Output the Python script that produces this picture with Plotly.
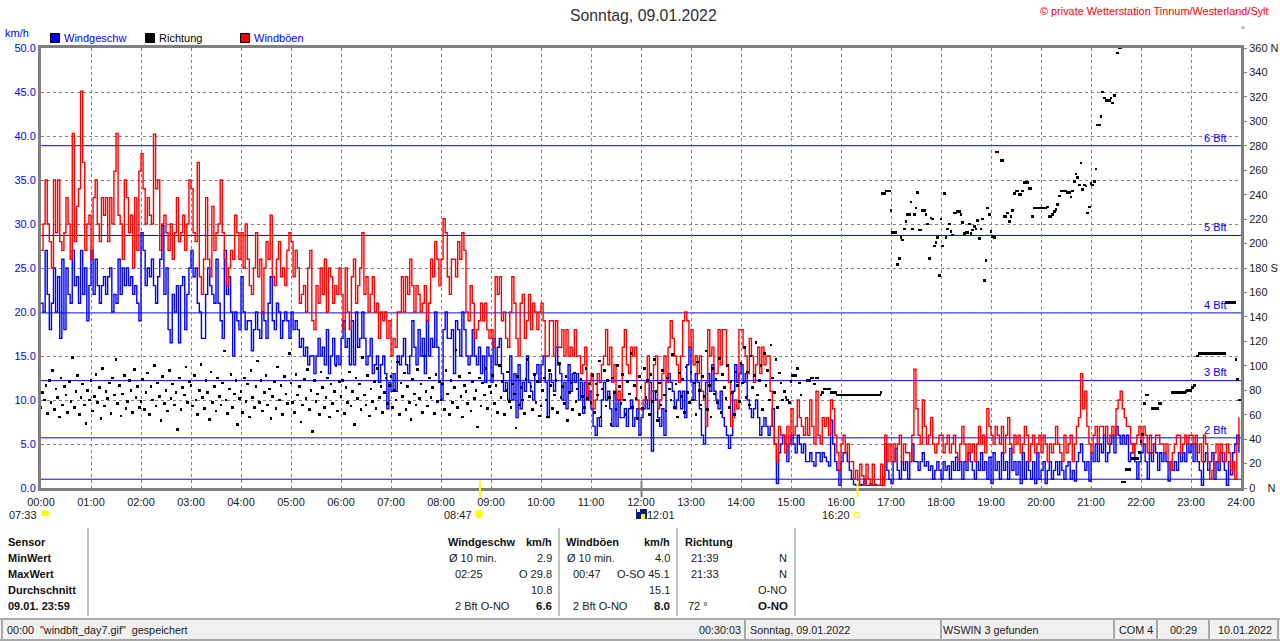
import plotly.graph_objects as go

n = None
hour_labels = [f"{h:02d}:00" for h in range(25)]
kmh_ticks = [0, 5, 10, 15, 20, 25, 30, 35, 40, 45, 50]
deg_ticks = list(range(0, 361, 20))
deg_labels = {0: "0    N", 180: "180 S", 360: "360 N"}
bft_levels = [1.0, 5.7, 12.2, 19.9, 28.7, 38.9]
bft_names = ["", "2 Bft", "3 Bft", "4 Bft", "5 Bft", "6 Bft"]
sun_marks = [8.78, 16.33]

G00 = [27,30,35,30,28,25,35,29,35,28,27,29,33,30,26,40.3,28,32,34,45.1,37,27,30,31]
G01 = [26,33,35,30,28,33,31,33,28,33,30,36,40.3,31,30,26,35,33,29,31,25,33,27,36]
G02 = [38,34,30,33,31,30,40.2,34,35,27,30,31,29,27,30,26,29,33,28,29,31,27,30,35]
G03 = [34,29,28,37,24,22,26,33,26,24,32,27,29,30,35,29,26,23,25,27,26,31,29,26]
G04 = [29,25,30,26,23,22,25,29,24,26,20,25,28,26,31,24,23,26,28,24,25,23,27,29]
G05 = [28,24,27,25,21,22,23,20,25,27,19,18,23,21,25,22,26,20,25,24,21,23,22,25]
G06 = [22,18,25,20,18,24,26,21,23,25,29,22,24,20,22,24,20,21,17,20,19,20,17,19]
G07 = [15,17,16,20,20,24,20,24,22,26,23,20,23,22,20,21,23,19,21,26,24,28,26,23]
G08 = [26,30.6,29,24,22,26,26,24,28,26,29,27,20,19,23,21,17,18,19,21,19,21,18,17]
G09 = [18,16,24,22,24,19,20,17,16,20,24,21,17,15,21,22,17,19,22,18,21,20,18,20]
G10 = [21,19,15,15,19,19,15,19,16,16,18,15,18,15,16,15,18,15,15,13,14,16,10,12]
G11 = [13,9,10,13,12,14,15,18,14,16,12,14,10,11,10,16,18,14,13,16,15,16,10,9]
G12 = [9,10,12,15,10,11,14,15,9,10,13,15,12,16,19,17,15,14,12,15,19,20,19,16]
G13 = [18,14,15,13,15,11,10,7,18,15,16,13,13,18,14,18,18,14,12,7,8,10,9,18]
G14 = [18,16,15,13,17,15,12,14,16,13,16,14,15,15,11,7,5,3,7,6,6,4,7,5]
G15 = [9,6,7,10,8,7,6,8,6,10,7,5,11,6,5,8,7,8,6,10,9,6,4,2]
G16 = [5,6,4,5,3,3,1,2,0.3,2.7,1.4,0.3,2.7,1,0.3,2.7,0.3,0.3,0.3,2.7,0.3,6,3,5]
G17 = [3,5,3,5,6,3,5,4,4,3,6,13.5,9,6,5,10,7,5,6,8,5,4,5,6]
G18 = [6,4,5,6,4,5,6,4,3,5,7,5,3,5,4,5,3,5,7,5,6,4,9,7]
G19 = [6,5,7,6,5,7,4,6,8,5,4,6,5,6,4,5,7,6,3,5,6,4,5,6]
G20 = [4,6,5,3,5,4,5,7,5,4,3,6,4,5,6,3,5,7,8,13,9,11,7,5]
G21 = [4,6,7,5,7,7,6,7,5,6,7,6,9,10,11,9,8,7,7,5,4,5,6,7]
G22 = [5,7,6,4,6,4,5,6,6,5,5,4,5,3,2,4,5,6,6,4,5,6,5,6]
G23 = [6,5,6,4,5,3,6,5,3,1,2,4,5,3,5,4,3,5,4,2,3,1,5,8]

B00 = [21,20,27,22,18,21,25,20,24,17,26,18,25,22,21,27,23,24,21,27,22,25,19,23]
B01 = [27,22,26,23,21,23,24,22,24,25,20,22,21,26,22,25,23,25,23,24,22,23,21,19]
B02 = [29,27,23,25,24,26,23,21,24,26,29.8,22,25,18,16.5,22,20,23,16.5,23,24,18,22,25]
B03 = [27,24,25,21,20,17,17,22,25,23,22,21,26,21,19,17,27,22,24,20,15,20,19,18]
B04 = [24,20,18,19,19,15.6,18,20,18,17,20,19,17,21,24,19,18,21,20,17,19,20,19,17]
B05 = [20,18,19,18,16,17,15,16,14,15,15,13,15,17,15,16,14,18,13,15,17,14,15,14]
B06 = [17,19,16,17,14,19,14,20,16,17,20,17,14,15,17,13,14,15,12,14,15,13,9,12]
B07 = [11,13,11,15,14,15,17,14,13,15,19,16,14,18,15,17,13,19,15,17,16,20,16,12]
B08 = [10,18,20,17,17,18,13,19,18,15,20,18,15,14,15,18,15,14,16,13,15,12,16,15]
B09 = [12,17,14,16,17,13,11,12,10,15,10,13,8,14,9,12,11,15,12,11,10,13,14,12]
B10 = [14,15,12,8,13,12,11,16,14,13,10,12,9,14,11,13,12,13,10,12,8.5,12,10,11]
B11 = [9,7,6,8,7,10,12,10,11,9,7,11,7,10,8,8,9,7,9,10,7,8,9,6]
B12 = [8,9,10,9,12,4.2,11,10,8,7,9,6,12,13,12,11,9,10,11,9,11,8,14,16]
B13 = [12,10,13,12,9,6,5,12,13,11,14,11,10,9,11,8,7,6,4.5,6,11,14,12,13]
B14 = [14,12,13,10,9,8,9,10,8,6,7,8,7,6,7,9,5,0.5,4,5,6,5,3,5]
B15 = [6,5,4,6,5,4,5,3,3,4,3,2.5,4,4,3,4,3.5,3,2.5,7.7,5,3,2,0.3]
B16 = [3,4,4,3,2,1,0.4,0.3,0.4,0.3,0.4,1,0.3,0.3,0.5,0.3,0.4,0.3,0.3,0.3,1.2,5,2,1]
B17 = [0.5,3,4.5,2,1,3,2,3,1,3,5,3,3,2,3,4,2.5,3,2,2.5,1,2,3,2]
B18 = [1,3,2,2.5,1,3,2,3.5,2,3,1,3,2,4,3,2,1,3,2,4,2,3,1,3.5]
B19 = [0.5,4,2,3,1,4,2,3,1,4.5,2,3,1.5,3,0.5,4,1,3,2,1,3,0.5,4,1]
B20 = [2,3,0.5,2,3,1,2,3,1.5,3,2,1,2.5,3,1,2,0.8,3,4,5,3,2,3,0.8]
B21 = [4,3,5,3,5,4,6,3,4,5,6,4,7,6,5,6,5,6,3,4,5,3,1,3]
B22 = [4,5,3,1,4,3,5,4,2,4,3,4,3,0.8,3,2,3,2,4,3,4,3,5,4]
B23 = [5,3,5,3,2,0.3,3,4,2,3,4,1,3,2,4,3,2,0.3,3,1.5,4,5,6,4]

D00 = [66,78,72,84,61,88,70,96,64,81,74,58,90,68,83,76,62,87,71,107,66,79,92,60,74,85,68,53,80,72]
D01 = [88,63,75,93,70,82,57,98,67,79,73,86,61,90,76,105,69,84,59,77,92,65,71,88,80,62,97,74,83,66]
D02 = [71,89,64,78,94,60,83,72,100,67,86,75,55,91,69,80,63,96,73,85,68,78,48,90,64,82,76,99,70,87]
D03 = [84,67,92,72,60,80,101,74,65,88,78,56,95,70,83,63,90,75,68,86,112,72,61,81,93,66,77,88,52,73]
D04 = [79,62,90,71,85,58,96,74,66,83,104,70,88,63,78,92,68,81,57,75,87,65,99,72,84,60,91,77,69,110]
D05 = [86,70,62,93,76,83,54,68,89,73,97,64,80,46,88,71,77,60,95,82,66,74,90,58,85,69,79,100,63,87]
D06 = [75,88,61,82,70,95,67,79,52,90,73,85,64,107,76,68,92,59,81,71,87,65,98,74,83,62,78,90,69,84]
D07 = [91,66,80,72,103,60,86,75,94,64,83,70,56,89,77,68,97,73,85,62,108,79,67,90,74,82,61,93,71,87]
D08 = [72,85,64,96,77,60,88,70,82,113,66,91,75,58,84,79,69,94,63,87,73,80,50,90,67,86,76,98,65,83]
D09 = [78,92,69,84,62,100,74,87,60,80,95,71,66,85,77,49,91,68,82,72,61,89,105,75,83,64,93,70,87,59]
D10 = [67,80,90,72,58,96,84,65,76,88,62,102,74,83,69,91,55,78,86,64,94,71,81,60,89,75,66,98,73,85]
D11 = [70,92,62,85,76,104,58,81,96,67,88,74,52,90,78,64,100,83,69,93,72,60,87,77,110,66,84,73,57,91]
D12 = [82,65,98,74,88,60,93,71,105,79,55,86,68,96,76,63,90,81,72,109,66,85,58,94,75,89,62,99,78,70]
D13 = [95,72,86,60,103,80,68,91,75,112,64,84,58,98,77,89,70,106,62,93,82,73,100,66,87,78,60,95,84,71]
D14 = [102,86,115,74,95,68,108,82,92,119,76,88,100,64,110,84,96,72,117,90,78,105,66,94,86,72,79,74,72,70]
D15 = [87,92,92,92,98,86,76,n,n,n,88,88,90,90,85,90,90,n,76,78,81,81,81,81,78,78,78,78,76,76]
D16 = [76,76,76,76,76,76,76,76,76,76,76,76,76,76,76,76,76,76,76,76,76,76,76,76,78,241,241,243,243,243]
D17 = [227,209,209,209,183,188,205,203,212,218,224,224,234,212,224,229,242,211,211,227,227,224,216,188,221,220,198,201,205,174]
D18 = [220,198,241,205,212,216,210,207,225,225,226,226,224,217,208,209,209,216,208,211,214,212,219,204,212,220,170,186,229,224]
D19 = [210,206,205,275,275,n,268,268,222,222,225,218,222,227,241,243,243,240,240,243,250,250,250,245,245,222,229,229,229,229]
D20 = [229,229,229,229,230,222,222,224,226,228,232,239,243,243,243,243,242,242,238,243,251,257,254,248,266,244,248,247,225,230]
D21 = [249,248,251,261,297,297,304,324,319,317,317,317,319,315,321,n,356,360,360,5,5,15,15,15,n,24,24,24,24,29]
D22 = [38,44,69,76,76,n,n,65,65,65,65,69,69,n,n,n,n,n,n,78,78,78,78,78,78,78,78,79,80,80]
D23 = [80,82,84,n,108,110,110,110,110,110,110,110,110,110,110,110,110,110,110,110,110,152,152,152,152,152,152,105,89,72]

gust_rows = [G00,G01,G02,G03,G04,G05,G06,G07,G08,G09,G10,G11,G12,G13,G14,G15,G16,G17,G18,G19,G20,G21,G22,G23]
speed_rows = [B00,B01,B02,B03,B04,B05,B06,B07,B08,B09,B10,B11,B12,B13,B14,B15,B16,B17,B18,B19,B20,B21,B22,B23]
dir_rows = [D00,D01,D02,D03,D04,D05,D06,D07,D08,D09,D10,D11,D12,D13,D14,D15,D16,D17,D18,D19,D20,D21,D22,D23]

gust = [v for r in gust_rows for v in r]
speed = [v for r in speed_rows for v in r]
direction = [v for r in dir_rows for v in r]
t_wind = [i / 24 for i in range(len(gust))]
t_dir = [i / 30 for i in range(len(direction))]

W, H = 1280, 641
L, R, T, B = 41, 1241, 48, 488
FONT = "Liberation Sans"
GRAY = "#808080"
BLUE = "#0000ff"


def px(x):
    return (x - L) / (R - L)


def py(y):
    return (B - y) / (B - T)


fig = go.Figure()
fig.add_trace(go.Scatter(x=t_wind, y=speed, mode="lines", name="Windgeschw", line=dict(color=BLUE, width=1.4, shape="hv"), yaxis="y"))
fig.add_trace(go.Scatter(x=t_wind, y=gust, mode="lines", name="Windböen", line=dict(color="#ff0000", width=1.4, shape="hv"), yaxis="y"))
fig.add_trace(go.Scatter(x=t_dir, y=direction, mode="markers", name="Richtung", marker=dict(color="black", size=2.6, symbol="square", line=dict(width=0)), yaxis="y2"))

shapes = []
annots = []


def text(x, y, s, color="black", size=11, bold=False, anchor="left"):
    if bold:
        s = f"<b>{s}</b>"
    annots.append(dict(xref="paper", yref="paper", x=px(x), y=py(y), text=s, showarrow=False,
                       xanchor=anchor, yanchor="middle", align=anchor, borderpad=0, borderwidth=0,
                       font=dict(family=FONT, size=size, color=color)))


def rect(x0, y0, x1, y1, fill=None, line=None, lw=1, layer="above"):
    shapes.append(dict(type="rect", xref="paper", yref="paper", x0=px(x0), x1=px(x1), y0=py(y0), y1=py(y1),
                       fillcolor=fill or "rgba(0,0,0,0)", line=dict(color=line or "rgba(0,0,0,0)", width=lw if line else 0), layer=layer))


def vline(x, y0, y1, color="#a0a0a0", w=2):
    shapes.append(dict(type="line", xref="paper", yref="paper", x0=px(x), x1=px(x), y0=py(y0), y1=py(y1),
                       line=dict(color=color, width=w), layer="above"))


def hline(y, x0, x1, color="#a0a0a0", w=2):
    shapes.append(dict(type="line", xref="paper", yref="paper", x0=px(x0), x1=px(x1), y0=py(y), y1=py(y),
                       line=dict(color=color, width=w), layer="above"))


for lvl, name, ly in zip(bft_levels, bft_names, [0, 430, 372, 305, 227, 138]):
    shapes.append(dict(type="line", xref="x", yref="y", x0=0, x1=24, y0=lvl, y1=lvl, line=dict(color=BLUE, width=1), layer="below"))
    if name:
        text(1227, ly, name, BLUE, anchor="right")

# title area
text(643, 15, "Sonntag, 09.01.2022", "#303030", 15.8, anchor="center")
text(1269, 11, "© private Wetterstation Tinnum/Westerland/Sylt", "#ff0000", 10.9, anchor="right")
text(1243, 30, "°", "#404040", 9, anchor="center")
text(5, 33, "km/h", BLUE, 11)
rect(50.5, 33.5, 59.5, 42.5, BLUE, "black")
text(64, 38, "Windgeschw", BLUE, 11)
rect(145.5, 33.5, 154.5, 42.5, "black", "black")
text(159, 38, "Richtung", "black", 11)
rect(240.5, 33.5, 249.5, 42.5, "#ff0000", "black")
text(254, 38, "Windböen", BLUE, 11)

# sun / moon row
ROW = 515
text(37, ROW, "07:33", "#202020", anchor="right")
shapes.append(dict(type="circle", xref="paper", yref="paper", x0=px(41), x1=px(49), y0=py(518), y1=py(510), fillcolor="#ffff00", line=dict(width=0), layer="above"))
rect(40, 516, 50, 520, "white")
text(472, ROW, "08:47", "#202020", anchor="right")
shapes.append(dict(type="circle", xref="paper", yref="paper", x0=px(475), x1=px(483), y0=py(518), y1=py(510), fillcolor="#ffff00", line=dict(width=0), layer="above"))
rect(636, 509, 647, 519, "#101878")
rect(641, 514, 645, 519, "#ffff00")
rect(637, 509, 640, 512, "white")
text(647, ROW, "12:01", "#202020")
text(850, ROW, "16:20", "#202020", anchor="right")
rect(854.5, 512.5, 859.5, 517.5, "white", "#ffff00")
for t in sun_marks:
    shapes.append(dict(type="line", xref="x", yref="paper", x0=t, x1=t, y0=py(497), y1=py(481), line=dict(color="#ffff00", width=2), layer="above"))
shapes.append(dict(type="line", xref="x", yref="paper", x0=12.01, x1=12.01, y0=py(497), y1=py(481), line=dict(color=GRAY, width=2), layer="above"))

# statistics table
rows_y = [541.7, 558, 574, 590, 605.5]
for y, s in zip(rows_y, ["Sensor", "MinWert", "MaxWert", "Durchschnitt", "09.01. 23:59"]):
    text(8, y, s, "#101010", 11, True)
for x in [88, 559, 677, 795]:
    vline(x, 528, 616, "#b0b0b0", 1.5)

text(448, rows_y[0], "Windgeschw", "#101010", 11, True)
text(552, rows_y[0], "km/h", "#101010", 11, True, "right")
text(449, rows_y[1], "Ø 10 min.", "#202020", 11)
text(552, rows_y[1], "2.9", "#202020", 11, anchor="right")
text(455, rows_y[2], "02:25", "#202020", 11)
text(552, rows_y[2], "O 29.8", "#202020", 11, anchor="right")
text(552, rows_y[3], "10.8", "#202020", 11, anchor="right")
text(455, rows_y[4], "2 Bft O-NO", "#202020", 11)
text(552, rows_y[4], "6.6", "#101010", 11.5, True, "right")

text(566, rows_y[0], "Windböen", "#101010", 11, True)
text(670, rows_y[0], "km/h", "#101010", 11, True, "right")
text(567, rows_y[1], "Ø 10 min.", "#202020", 11)
text(670, rows_y[1], "4.0", "#202020", 11, anchor="right")
text(573, rows_y[2], "00:47", "#202020", 11)
text(670, rows_y[2], "O-SO 45.1", "#202020", 11, anchor="right")
text(670, rows_y[3], "15.1", "#202020", 11, anchor="right")
text(573, rows_y[4], "2 Bft O-NO", "#202020", 11)
text(670, rows_y[4], "8.0", "#101010", 11.5, True, "right")

text(685, rows_y[0], "Richtung", "#101010", 11, True)
text(691, rows_y[1], "21:39", "#202020", 11)
text(787, rows_y[1], "N", "#202020", 11, anchor="right")
text(691, rows_y[2], "21:33", "#202020", 11)
text(787, rows_y[2], "N", "#202020", 11, anchor="right")
text(787, rows_y[3], "O-NO", "#202020", 11, anchor="right")
text(688, rows_y[4], "72 °", "#202020", 11)
text(788, rows_y[4], "O-NO", "#101010", 11.5, True, "right")

# status bar
rect(0, 619, 1280, 640, "#f0f0f0")
hline(619, 0, 1280, "#a8a8a8", 2)
hline(640, 0, 1280, "#a8a8a8", 2)
for x in [2, 745, 941, 1114, 1157, 1209, 1278]:
    vline(x, 620, 639, "#a8a8a8", 2)
text(7, 630, "00:00  \"windbft_day7.gif\"  gespeichert", "#202020", 10.8)
text(741, 630, "00:30:03", "#202020", 10.8, anchor="right")
text(750, 630, "Sonntag, 09.01.2022", "#202020", 10.8)
text(943, 630, "WSWIN 3 gefunden", "#202020", 10.8)
text(1119, 630, "COM 4", "#202020", 10.8)
text(1170, 630, "00:29", "#202020", 10.8)
text(1218, 630, "10.01.2022", "#202020", 10.8)

fig.update_layout(
    template="none",
    width=W, height=H, autosize=False,
    margin=dict(l=L, r=W - R, t=T, b=H - B, pad=0),
    paper_bgcolor="white", plot_bgcolor="white", showlegend=False,
    font=dict(family=FONT, size=11, color="black"),
    shapes=shapes, annotations=annots,
    xaxis=dict(range=[0, 24], tickvals=list(range(25)), ticktext=hour_labels, showgrid=True, automargin=False,
               gridcolor=GRAY, griddash="3px,3px", gridwidth=1, showline=True, linecolor=GRAY, linewidth=3,
               mirror=True, ticks="", zeroline=False, tickangle=0, tickfont=dict(color="#202020", size=11, family=FONT),
               ticklabelstandoff=2),
    yaxis=dict(range=[0, 50], tickvals=kmh_ticks, tickformat=".1f", showgrid=True, gridcolor=GRAY, automargin=False,
               griddash="3px,3px", gridwidth=1, showline=True, linecolor=GRAY, linewidth=3, mirror=True,
               ticks="", zeroline=False, tickfont=dict(color=BLUE, size=11, family=FONT)),
    yaxis2=dict(range=[0, 360], tickvals=deg_ticks, ticktext=[deg_labels.get(v, str(v)) for v in deg_ticks],
                overlaying="y", side="right", showgrid=False, zeroline=False, ticks="outside", ticklen=5, automargin=False,
                tickcolor=GRAY, tickwidth=1, showline=False, tickfont=dict(color="#202020", size=11, family=FONT)),
)

fig.write_html("out.html", config={"displayModeBar": False},
               post_script="document.body.style.margin='0';document.body.style.overflow='hidden';"
                           "document.querySelectorAll('.scatterlayer .point').forEach(function(p){p.style.shapeRendering='crispEdges';});")
